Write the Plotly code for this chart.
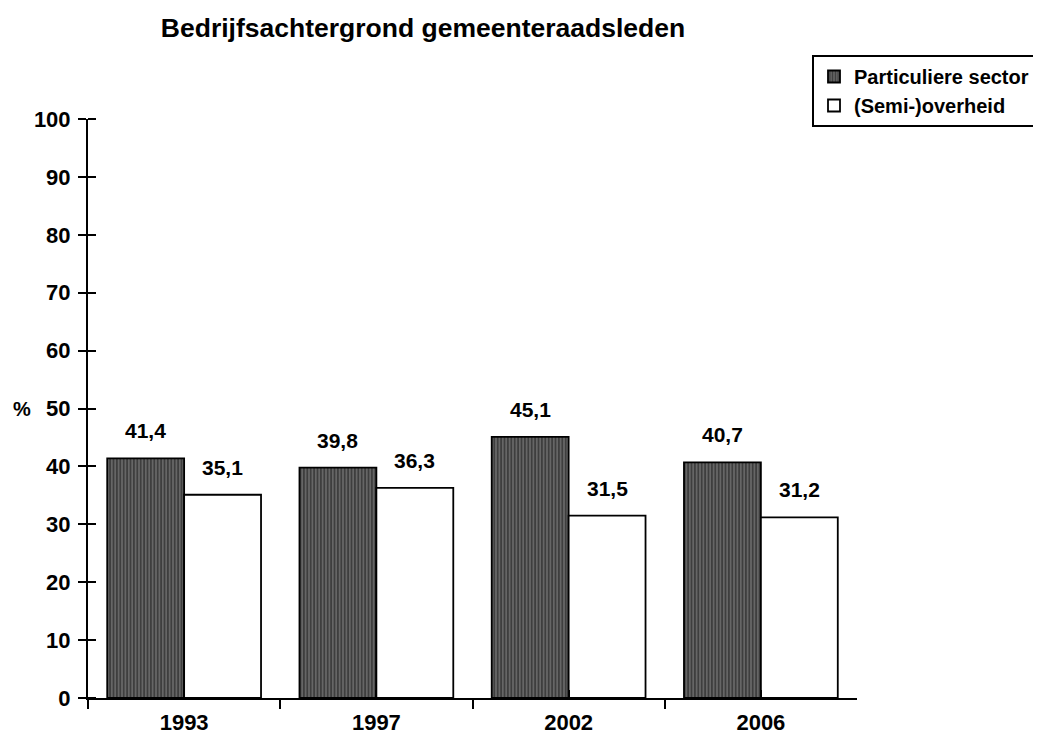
import plotly.graph_objects as go

years = ["1993", "1997", "2002", "2006"]
particulier = [41.4, 39.8, 45.1, 40.7]
overheid = [35.1, 36.3, 31.5, 31.2]
series_names = ["Particuliere sector", "(Semi-)overheid"]
y_ticks = [0, 10, 20, 30, 40, 50, 60, 70, 80, 90, 100]
title_text = "Bedrijfsachtergrond gemeenteraadsleden"

FONT = "Liberation Sans, Arial, sans-serif"
# the page has an 8px body margin, so the figure is offset by (8, 8)
L, R, T, B = 80, 192, 111, 48
W, H = 1041, 738
plot_w = W - L - R
plot_h = H - T - B

fig = go.Figure()
fig.add_trace(go.Bar(
    x=years, y=particulier, name="<b>" + series_names[0] + "</b>",
    marker=dict(color="#5c5c5c", line=dict(color="black", width=1.8),
                pattern=dict(shape="|", bgcolor="#666666", fgcolor="#0d0d0d",
                             size=3.4, solidity=0.45, fillmode="overlay")),
))
fig.add_trace(go.Bar(
    x=years, y=overheid, name="<b>" + series_names[1] + "</b>",
    marker=dict(color="white", line=dict(color="black", width=1.8)),
))

# value labels
cat_w = plot_w / len(years)
bar_w = cat_w * 0.8 / 2
def fmt(v):
    return f"{v:.1f}".replace(".", ",")
for series, shift in ((particulier, -bar_w / 2), (overheid, bar_w / 2)):
    for i, v in enumerate(series):
        fig.add_annotation(x=i, y=v, xref="x", yref="y", text="<b>" + fmt(v) + "</b>",
                           showarrow=False, xshift=shift, yshift=14,
                           yanchor="bottom",
                           font=dict(family=FONT, size=21, color="black"))

fig.add_annotation(x=(14 - L) / plot_w, y=50, xref="paper", yref="y",
                   text="<b>%</b>", showarrow=False, xanchor="center", yanchor="middle",
                   font=dict(family=FONT, size=20, color="black"))

axis_font = dict(family=FONT, size=22, color="black")
boundaries = [i - 0.5 for i in range(len(years) + 1)]
fig.update_layout(
    width=W, height=H,
    margin=dict(l=L, r=R, t=T, b=B, pad=0, autoexpand=False),
    paper_bgcolor="white", plot_bgcolor="white",
    barmode="group", bargap=0.2, bargroupgap=0,
    title=dict(text="<b>" + title_text + "</b>", x=415 / W, xanchor="center",
               y=1 - 20 / H, yanchor="middle",
               font=dict(family=FONT, size=26.5, color="black")),
    font=dict(family=FONT, color="black"),
    showlegend=True,
    legend=dict(x=(804 - L) / plot_w, xanchor="left", y=1 + (T - 47) / plot_h,
                yanchor="top", bordercolor="black", borderwidth=2,
                bgcolor="white", font=dict(family=FONT, size=20, color="black"),
                tracegroupgap=0),
    xaxis=dict(type="category", range=[-0.5, 3.5],
               showline=True, linecolor="black", linewidth=2,
               ticks="outside", ticklen=9, tickwidth=2, tickcolor="black",
               tickson="boundaries", showgrid=False, zeroline=False,
               tickfont=axis_font, tickangle=0, ticklabelstandoff=4,
               tickvals=years, ticktext=["<b>" + y + "</b>" for y in years],
               minor=dict(ticks="inside", tickmode="array", tickvals=boundaries,
                          ticklen=8, tickwidth=2, tickcolor="black", showgrid=False)),
    yaxis=dict(range=[0, 100], tickvals=y_ticks,
               ticktext=["<b>" + str(t) + "</b>" for t in y_ticks],
               showline=True, linecolor="black",
               linewidth=2, ticks="outside", ticklen=8, tickwidth=2, tickcolor="black",
               showgrid=False, zeroline=False, tickfont=axis_font,
               ticklabelstandoff=3,
               minor=dict(ticks="inside", tickmode="array", tickvals=y_ticks,
                          ticklen=8, tickwidth=2, tickcolor="black", showgrid=False)),
)

fig.write_html("out.html")
